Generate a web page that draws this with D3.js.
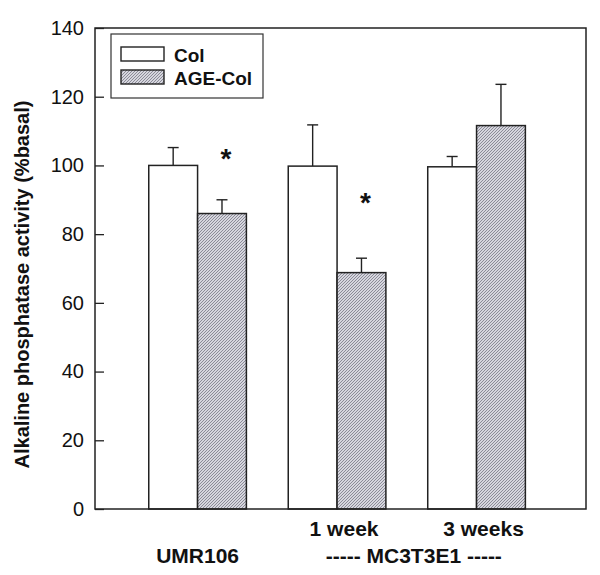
<!DOCTYPE html>
<html>
<head>
<meta charset="utf-8">
<script src="https://cdn.jsdelivr.net/npm/d3@7"></script>
<style>
  body { margin: 0; background: #fff; }
  text { font-family: "Liberation Sans", Arial, sans-serif; fill: #111; }
</style>
</head>
<body>
<div id="chart"></div>
<script>
var groups = ['UMR106', '1 week', '3 weeks'];
var series = ['Col', 'AGE-Col'];
var colMean = [100, 99.8, 99.6];
var colErr = [5.2, 12, 3];
var ageMean = [86, 68.8, 111.6];
var ageErr = [4, 4.2, 12];
// asterisk heights, in %basal units (none for 3 weeks)
var starAt = [104, 91, null];
var yTicks = [0, 20, 40, 60, 80, 100, 120, 140];

var width = 600, height = 575;
var plotL = 95, plotR = 586, plotT = 28, plotB = 509;

var svg = d3.select('#chart')
  .append('svg')
    .attr('width', width)
    .attr('height', height);

var defs = svg.append('defs');
var pat = defs.append('pattern')
    .attr('id', 'hatch')
    .attr('patternUnits', 'userSpaceOnUse')
    .attr('width', 3)
    .attr('height', 3);
pat.append('rect')
    .attr('width', 3).attr('height', 3)
    .attr('fill', '#d6d6de');
pat.append('path')
    .attr('d', 'M-1,1 l2,-2 M0,3 l3,-3 M2,4 l2,-2')
    .attr('stroke', '#6a6a78')
    .attr('stroke-width', 0.7);

var y = d3.scaleLinear().domain([0, 140]).range([plotB, plotT]);
var x = d3.scaleBand().domain(groups).range([plotL, plotR])
  .paddingInner(0.3).paddingOuter(0.41).align(0.47);
var xs = d3.scaleBand().domain(series).range([0, x.bandwidth()]);

var data = [];
groups.forEach(function (g, i) {
  data.push({ g: g, s: 'Col', v: colMean[i], e: colErr[i] });
  data.push({ g: g, s: 'AGE-Col', v: ageMean[i], e: ageErr[i] });
});

function cx(d) { return x(d.g) + xs(d.s) + xs.bandwidth() / 2; }

// error bars (upper only)
var eb = svg.selectAll('g.err')
  .data(data)
  .enter().append('g')
    .classed('err', true);
eb.append('line')
  .attr('x1', cx)
  .attr('x2', cx)
  .attr('y1', function (d) { return y(d.v); })
  .attr('y2', function (d) { return y(d.v + d.e); })
  .attr('stroke', '#222').attr('stroke-width', 1.4);
eb.append('line')
  .attr('x1', function (d) { return cx(d) - 5.5; })
  .attr('x2', function (d) { return cx(d) + 5.5; })
  .attr('y1', function (d) { return y(d.v + d.e); })
  .attr('y2', function (d) { return y(d.v + d.e); })
  .attr('stroke', '#222').attr('stroke-width', 1.4);

svg.selectAll('rect.bar')
  .data(data)
  .enter().append('rect')
    .classed('bar', true)
    .attr('x', function (d) { return x(d.g) + xs(d.s); })
    .attr('y', function (d) { return y(d.v); })
    .attr('width', xs.bandwidth())
    .attr('height', function (d) { return y(0) - y(d.v); })
    .attr('fill', function (d) { return d.s === 'Col' ? '#fff' : 'url(#hatch)'; })
    .attr('stroke', '#222')
    .attr('stroke-width', 1.5);

// significance stars
var starData = groups.map(function (g, i) { return { g: g, v: starAt[i] }; })
  .filter(function (d) { return d.v !== null; });
svg.selectAll('text.star')
  .data(starData)
  .enter().append('text')
    .classed('star', true)
    .attr('x', function (d) { return x(d.g) + xs('AGE-Col') + xs.bandwidth() / 2 + 4; })
    .attr('y', function (d) { return y(d.v) + 16; })
    .attr('text-anchor', 'middle')
    .style('font-size', '28px')
    .style('font-weight', 'bold')
    .text('*');

// frame
svg.append('rect')
  .attr('x', plotL).attr('y', plotT)
  .attr('width', plotR - plotL).attr('height', plotB - plotT)
  .attr('fill', 'none').attr('stroke', '#222').attr('stroke-width', 1.5);

// y axis, ticks inward
var yAxis = svg.append('g')
  .attr('transform', 'translate(' + plotL + ',0)')
  .call(d3.axisLeft(y).tickValues(yTicks).tickSizeInner(-9).tickSizeOuter(0).tickPadding(11));
yAxis.select('.domain').remove();
yAxis.selectAll('line').attr('stroke', '#222').attr('stroke-width', 1.3);
yAxis.selectAll('text')
  .style('font-size', '20px')
  .style('font-family', '"Liberation Sans", Arial, sans-serif')
  .attr('fill', '#111');

svg.append('text')
  .attr('transform', 'translate(29,' + ((plotT + plotB) / 2 + 16) + ') rotate(-90)')
  .attr('text-anchor', 'middle')
  .style('font-size', '20px')
  .style('font-weight', 'bold')
  .text('Alkaline phosphatase activity (%basal)');

// x labels
svg.selectAll('text.xl')
  .data(groups.slice(1))
  .enter().append('text')
    .classed('xl', true)
    .attr('x', function (g) { return x(g) + x.bandwidth() / 2 + 7; })
    .attr('y', 536)
    .attr('text-anchor', 'middle')
    .style('font-size', '21px')
    .style('font-weight', 'bold')
    .text(function (g) { return g; });

svg.append('text')
  .attr('x', x('UMR106') + x.bandwidth() / 2)
  .attr('y', 563)
  .attr('text-anchor', 'middle')
  .style('font-size', '21px')
  .style('font-weight', 'bold')
  .text('UMR106');

svg.append('text')
  .attr('x', (x('1 week') + x('3 weeks') + x.bandwidth()) / 2 + 7)
  .attr('y', 563)
  .attr('text-anchor', 'middle')
  .style('font-size', '21px')
  .style('font-weight', 'bold')
  .text('----- MC3T3E1 -----');

// legend
var lg = svg.append('g');
lg.append('rect')
  .attr('x', 111).attr('y', 34).attr('width', 152).attr('height', 64)
  .attr('fill', '#fff').attr('stroke', '#333').attr('stroke-width', 1.2);
var li = lg.selectAll('g.li')
  .data(series)
  .enter().append('g')
    .classed('li', true)
    .attr('transform', function (d, i) { return 'translate(121,' + (47 + i * 23) + ')'; });
li.append('rect')
  .attr('width', 43).attr('height', 14)
  .attr('fill', function (d) { return d === 'Col' ? '#fff' : 'url(#hatch)'; })
  .attr('stroke', '#222').attr('stroke-width', 1.4);
li.append('text')
  .attr('x', 53).attr('y', 14.5)
  .style('font-size', '19px')
  .style('font-weight', 'bold')
  .text(function (d) { return d; });
</script>
</body>
</html>
